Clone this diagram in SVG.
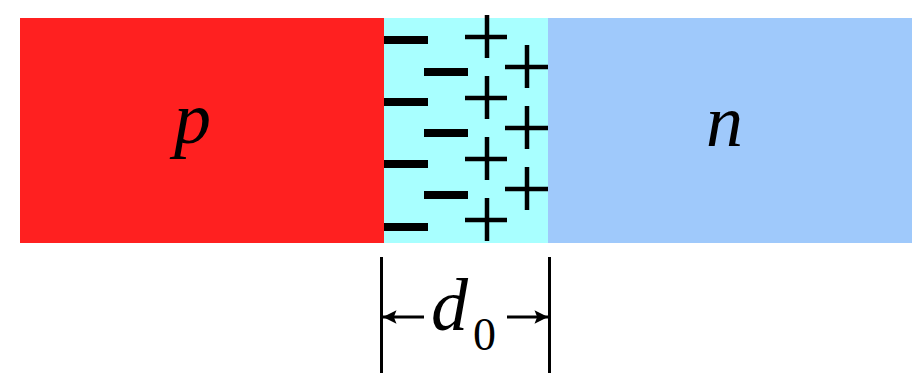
<svg xmlns="http://www.w3.org/2000/svg" width="912" height="373" viewBox="0 0 912 373">
<style>
.m{stroke:#000;stroke-width:8;fill:none}
.pl{stroke:#000;stroke-width:4.5;fill:none}
.dim{stroke:#000;stroke-width:3;fill:none}
.lbl{font-family:"Liberation Serif",serif;font-style:italic;font-size:74px;fill:#000}
.sub{font-family:"Liberation Serif",serif;font-size:46px;fill:#000}
</style>
<defs>
<marker id="ah" viewBox="0 0 10 10" refX="10" refY="5" markerWidth="5.5" markerHeight="4.5" markerUnits="strokeWidth" orient="auto-start-reverse">
<path d="M0,0 L10,5 L0,10 L2,5 Z" fill="#000"/>
</marker>
</defs>
<g id="p-region">
<rect x="20" y="18" width="364" height="225" fill="#ff2020"/>
<text class="lbl" x="174" y="143">p</text>
</g>
<g id="depletion">
<rect x="384" y="18" width="164" height="225" fill="#a8ffff"/>
<g id="minus">
<line class="m" x1="384" y1="40" x2="428" y2="40"/>
<line class="m" x1="384" y1="102" x2="428" y2="102"/>
<line class="m" x1="384" y1="164" x2="428" y2="164"/>
<line class="m" x1="384" y1="227" x2="428" y2="227"/>
<line class="m" x1="424" y1="72" x2="468" y2="72"/>
<line class="m" x1="424" y1="133" x2="468" y2="133"/>
<line class="m" x1="424" y1="195" x2="468" y2="195"/>
</g>
<g id="plus">
<path class="pl" d="M465,37 H507 M487,15 V58"/>
<path class="pl" d="M465,98 H507 M487,76 V119"/>
<path class="pl" d="M465,159 H507 M487,137 V180"/>
<path class="pl" d="M465,220 H507 M487,198 V241"/>
<path class="pl" d="M505,67 H548 M527,45 V88"/>
<path class="pl" d="M505,128 H548 M527,106 V149"/>
<path class="pl" d="M505,189 H548 M527,167 V210"/>
</g>
</g>
<g id="n-region">
<rect x="548" y="18" width="364" height="225" fill="#9fc9fb"/>
<text class="lbl" x="706" y="146">n</text>
</g>
<g id="connectors">
<line class="dim" x1="381.5" y1="257" x2="381.5" y2="373"/>
<line class="dim" x1="549.5" y1="257" x2="549.5" y2="373"/>
<line class="dim" x1="424" y1="317" x2="383" y2="317" marker-end="url(#ah)"/>
<line class="dim" x1="507" y1="317" x2="548" y2="317" marker-end="url(#ah)"/>
</g>
<g id="label-d0">
<text class="lbl" x="431" y="330">d</text>
<text class="sub" x="473" y="350">0</text>
</g>
</svg>
